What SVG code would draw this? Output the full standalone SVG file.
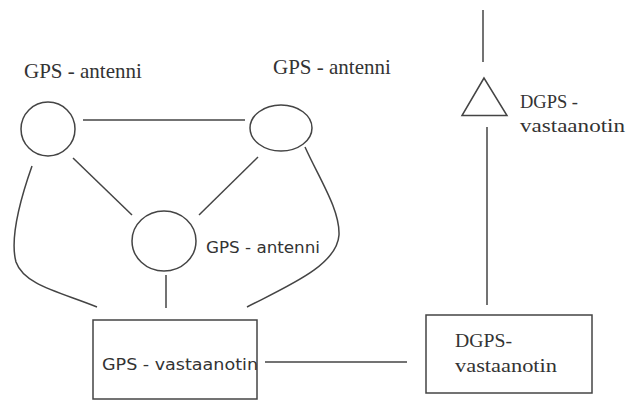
<svg xmlns="http://www.w3.org/2000/svg" width="626" height="401" viewBox="0 0 626 401">
<style>
.s{fill:none;stroke:#444;stroke-width:1.5}
.ss{font-family:"DejaVu Sans","Liberation Sans",sans-serif;fill:#333}
text.sf{font-family:"Liberation Serif","Times New Roman",serif;fill:#333}
</style>
<rect width="626" height="401" fill="#fff"/>
<g id="connectors">
<line class="s" x1="83" y1="120" x2="245" y2="120"/>
<line class="s" x1="73" y1="158" x2="132" y2="215"/>
<line class="s" x1="258" y1="157" x2="199" y2="215"/>
<line class="s" x1="166" y1="275" x2="166" y2="308"/>
<path class="s" d="M32,166 C20,200 10,240 16,262 C24,285 60,292 97,307"/>
<path class="s" d="M305,147 C320,180 340,210 339,235 C337,265 290,285 247,307"/>
<line class="s" x1="265" y1="362" x2="407" y2="362"/>
<line class="s" x1="487" y1="127" x2="487" y2="305"/>
<line class="s" x1="483" y1="10" x2="483" y2="62"/>
</g>
<g id="antenna1">
<circle class="s" cx="48" cy="129" r="27"/>
<text class="sf" x="24" y="78" font-size="21">GPS - antenni</text>
</g>
<g id="antenna2">
<ellipse class="s" cx="281" cy="128" rx="31" ry="23"/>
<text class="sf" x="273" y="74" font-size="21">GPS - antenni</text>
</g>
<g id="antenna3">
<ellipse class="s" cx="164" cy="241" rx="32" ry="30"/>
<text class="ss" x="206" y="253" font-size="16" textLength="114" lengthAdjust="spacingAndGlyphs">GPS - antenni</text>
</g>
<g id="gps-receiver">
<rect class="s" x="93" y="320" width="164" height="79"/>
<text class="ss" x="102" y="370" font-size="16" textLength="156" lengthAdjust="spacingAndGlyphs">GPS - vastaanotin</text>
</g>
<g id="dgps-antenna">
<polygon class="s" points="484,78 462,115.5 507,115.5"/>
<text class="sf" x="520" y="108" font-size="19" textLength="58" lengthAdjust="spacingAndGlyphs">DGPS -</text>
<text class="sf" x="520" y="132" font-size="19" textLength="105" lengthAdjust="spacingAndGlyphs">vastaanotin</text>
</g>
<g id="dgps-receiver">
<rect class="s" x="426" y="315" width="166" height="78"/>
<text class="sf" x="455" y="347" font-size="19" textLength="57" lengthAdjust="spacingAndGlyphs">DGPS-</text>
<text class="sf" x="455" y="372" font-size="19" textLength="102" lengthAdjust="spacingAndGlyphs">vastaanotin</text>
</g>
</svg>
